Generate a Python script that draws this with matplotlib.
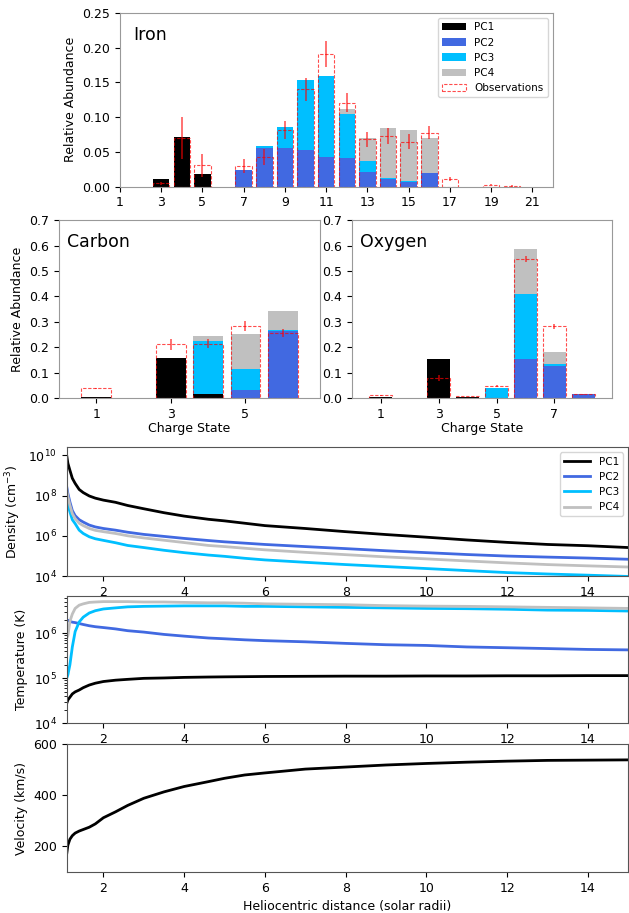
import numpy as np
import matplotlib
matplotlib.use("Agg")
import matplotlib.pyplot as plt

# ---- charge state abundances (stacked components) ----
fe_q = np.arange(1, 22)
fe_pc1 = [0, 0, 0.0115, 0.071, 0.0177, 0, 0, 0, 0, 0, 0, 0, 0, 0, 0, 0, 0, 0, 0, 0, 0]
fe_pc2 = [0, 0, 0, 0, 0, 0, 0.024, 0.056, 0.056, 0.0527, 0.043, 0.041, 0.0206, 0.0105, 0.007, 0.020, 0, 0, 0, 0, 0]
fe_pc3 = [0, 0, 0, 0, 0, 0, 0, 0.003, 0.030, 0.101, 0.116, 0.063, 0.0164, 0.0025, 0.0005, 0, 0, 0, 0, 0, 0]
fe_pc4 = [0, 0, 0, 0, 0, 0, 0, 0, 0, 0, 0, 0.008, 0.033, 0.072, 0.0735, 0.050, 0, 0, 0, 0, 0]
fe_obs = [0, 0, 0.005, 0.070, 0.0306, 0, 0.0297, 0.0426, 0.081, 0.140, 0.191, 0.121, 0.068, 0.073, 0.065, 0.078, 0.0105, 0, 0.003, 0.001, 0]
fe_err = [0, 0, 0.002, 0.030, 0.016, 0, 0.010, 0.011, 0.013, 0.017, 0.019, 0.014, 0.011, 0.011, 0.011, 0.010, 0.003, 0, 0.001, 0.001, 0]

c_q = np.arange(1, 7)
c_pc1 = [0.004, 0, 0.157, 0.0157, 0, 0]
c_pc2 = [0, 0, 0, 0.002, 0.034, 0.263]
c_pc3 = [0, 0, 0, 0.208, 0.081, 0.004]
c_pc4 = [0, 0, 0, 0.021, 0.136, 0.075]
c_obs = [0.039, 0, 0.212, 0.214, 0.284, 0.255]
c_err = [0.001, 0, 0.021, 0.018, 0.018, 0.016]

o_q = np.arange(1, 9)
o_pc1 = [0.005, 0, 0.154, 0.004, 0, 0, 0, 0]
o_pc2 = [0, 0, 0, 0, 0.002, 0.154, 0.126, 0.018]
o_pc3 = [0, 0, 0, 0, 0.037, 0.256, 0.008, 0]
o_pc4 = [0, 0, 0, 0, 0, 0.178, 0.048, 0]
o_obs = [0.012, 0, 0.080, 0.009, 0.050, 0.546, 0.283, 0.016]
o_err = [0.001, 0, 0.012, 0.001, 0.004, 0.012, 0.010, 0.001]

# ---- radial profiles ----
r = [1.09, 1.12, 1.17, 1.23, 1.3, 1.4, 1.5, 1.65, 1.8, 2.0, 2.3, 2.6, 3.0, 3.5,
     4.0, 4.6, 5.0, 5.5, 6.0, 7.0, 8.0, 9.0, 10.0, 11.0, 12.0, 13.0, 14.0, 15.0]

dens_pc1 = [1.0e10, 4.0e9, 1.8e9, 7.2e8, 4.0e8, 2.0e8, 1.4e8, 9.5e7, 7.4e7, 5.9e7, 4.6e7, 3.2e7, 2.2e7, 1.4e7,
            9.5e6, 6.6e6, 5.5e6, 4.2e6, 3.2e6, 2.3e6, 1.6e6, 1.15e6, 8.5e5, 6.2e5, 4.7e5, 3.7e5, 3.2e5, 2.6e5]
dens_pc2 = [2.8e8, 1.26e8, 4.8e7, 1.8e7, 1.0e7, 6.3e6, 4.8e6, 3.4e6, 2.75e6, 2.3e6, 1.9e6, 1.5e6, 1.17e6, 9.3e5,
            7.4e5, 5.8e5, 5.0e5, 4.3e5, 3.7e5, 2.9e5, 2.3e5, 1.8e5, 1.45e5, 1.17e5, 9.8e4, 8.7e4, 7.8e4, 6.8e4]
dens_pc3 = [7.9e7, 3.5e7, 1.55e7, 6.3e6, 4.0e6, 1.9e6, 1.3e6, 8.9e5, 7.1e5, 5.9e5, 4.5e5, 3.3e5, 2.6e5, 1.9e5,
            1.45e5, 1.1e5, 9.5e4, 7.6e4, 6.3e4, 4.8e4, 3.7e4, 2.95e4, 2.35e4, 1.86e4, 1.48e4, 1.26e4, 1.1e4, 9.5e3]
dens_pc4 = [2.0e8, 8.9e7, 3.3e7, 1.26e7, 7.1e6, 4.2e6, 3.2e6, 2.3e6, 1.86e6, 1.6e6, 1.3e6, 1.0e6, 7.8e5, 6.0e5,
            4.6e5, 3.3e5, 2.9e5, 2.4e5, 2.0e5, 1.5e5, 1.15e5, 8.9e4, 7.1e4, 5.6e4, 4.5e4, 3.7e4, 3.2e4, 2.8e4]

temp_pc1 = [2.75e4, 3.3e4, 3.8e4, 4.5e4, 5.0e4, 5.5e4, 6.2e4, 7.1e4, 7.8e4, 8.5e4, 9.1e4, 9.5e4, 1.0e5, 1.02e5,
            1.05e5, 1.07e5, 1.08e5, 1.09e5, 1.1e5, 1.11e5, 1.12e5, 1.12e5, 1.13e5, 1.13e5, 1.14e5, 1.14e5, 1.15e5, 1.15e5]
temp_pc2 = [2.0e6, 1.95e6, 1.86e6, 1.78e6, 1.74e6, 1.66e6, 1.58e6, 1.48e6, 1.41e6, 1.35e6, 1.26e6, 1.15e6, 1.07e6, 9.5e5,
            8.7e5, 7.9e5, 7.6e5, 7.2e5, 6.9e5, 6.5e5, 6.0e5, 5.6e5, 5.4e5, 5.0e5, 4.8e5, 4.6e5, 4.4e5, 4.3e5]
temp_pc3 = [1.0e5, 1.2e5, 2.0e5, 5.0e5, 1.1e6, 1.8e6, 2.3e6, 2.85e6, 3.2e6, 3.5e6, 3.7e6, 3.9e6, 4.0e6, 4.05e6,
            4.1e6, 4.1e6, 4.1e6, 4.0e6, 4.0e6, 3.9e6, 3.8e6, 3.7e6, 3.6e6, 3.55e6, 3.45e6, 3.3e6, 3.25e6, 3.15e6]
temp_pc4 = [7.9e5, 8.9e5, 1.86e6, 2.7e6, 3.6e6, 4.25e6, 4.55e6, 4.9e6, 5.0e6, 5.1e6, 5.1e6, 5.1e6, 5.0e6, 5.0e6,
            4.9e6, 4.8e6, 4.8e6, 4.7e6, 4.55e6, 4.45e6, 4.35e6, 4.15e6, 4.05e6, 4.0e6, 3.9e6, 3.8e6, 3.7e6, 3.6e6]

velocity = [170, 205, 228, 242, 252, 260, 266, 275, 288, 312, 335, 360, 388, 413,
            434, 453, 466, 479, 487, 502, 510, 518, 524, 529, 533, 536, 537, 538]

colors = ["black", "royalblue", "deepskyblue", "silver"]
labels = ["PC1", "PC2", "PC3", "PC4"]

plt.rcParams["font.size"] = 9
plt.rcParams["xtick.labelsize"] = 9
plt.rcParams["ytick.labelsize"] = 9

fig = plt.figure(figsize=(6.29, 9.13), dpi=100)


def bar_panel(ax, q, comps, obs, err, name):
    bottom = np.zeros(len(q))
    for vals, col, lab in zip(comps, colors, labels):
        vals = np.array(vals)
        ax.bar(q, vals, width=0.8, bottom=bottom, color=col, label=lab, linewidth=0)
        bottom += vals
    obs = np.array(obs)
    err = np.array(err)
    m = obs > 0
    ax.bar(q[m], obs[m], width=0.8, fill=False, edgecolor="red", linestyle=(0, (3, 1.5)),
           linewidth=0.8, alpha=0.7, label="Observations")
    ax.errorbar(q[m], obs[m], yerr=err[m], fmt="none", ecolor="red", elinewidth=1.3, alpha=0.6)
    ax.text(0.03, 0.875, name, transform=ax.transAxes, fontsize=12.5, va="center")
    for s in ax.spines.values():
        s.set_color("#999999")


# Iron
ax_fe = fig.add_axes([0.1908, 0.7955, 0.6884, 0.1903])
bar_panel(ax_fe, fe_q, [fe_pc1, fe_pc2, fe_pc3, fe_pc4], fe_obs, fe_err, "Iron")
ax_fe.set_xlim(1, 22)
ax_fe.set_ylim(0, 0.25)
ax_fe.set_xticks(np.arange(1, 22, 2))
ax_fe.set_yticks([0, 0.05, 0.10, 0.15, 0.20, 0.25])
ax_fe.set_yticklabels(["0.00", "0.05", "0.10", "0.15", "0.20", "0.25"])
ax_fe.set_ylabel("Relative Abundance")
ax_fe.legend(loc="upper right", fontsize=7.5, handlelength=2.3)

# Carbon
ax_c = fig.add_axes([0.0938, 0.5637, 0.415, 0.1953])
bar_panel(ax_c, c_q, [c_pc1, c_pc2, c_pc3, c_pc4], c_obs, c_err, "Carbon")
ax_c.set_xlim(0, 7)
ax_c.set_ylim(0, 0.7)
ax_c.set_xticks([1, 3, 5])
ax_c.set_ylabel("Relative Abundance")
ax_c.set_xlabel("Charge State", labelpad=1)

# Oxygen
ax_o = fig.add_axes([0.5596, 0.5637, 0.4138, 0.1953])
bar_panel(ax_o, o_q, [o_pc1, o_pc2, o_pc3, o_pc4], o_obs, o_err, "Oxygen")
ax_o.set_xlim(0, 9)
ax_o.set_ylim(0, 0.7)
ax_o.set_xticks([1, 3, 5, 7])
ax_o.set_xlabel("Charge State", labelpad=1)

# Density
ax_d = fig.add_axes([0.106, 0.3691, 0.8928, 0.141])
for vals, col, lab in zip([dens_pc1, dens_pc2, dens_pc3, dens_pc4], colors, labels):
    ax_d.plot(r, vals, color=col, lw=2, label=lab)
ax_d.set_yscale("log")
ax_d.set_ylim(1e4, 2.5e10)
ax_d.set_yticks([1e4, 1e6, 1e8, 1e10])
ax_d.set_ylabel("Density (cm$^{-3}$)")
ax_d.legend(loc="upper right", fontsize=7.5, handlelength=2.5)

# Temperature
ax_t = fig.add_axes([0.106, 0.2078, 0.8928, 0.1394])
for vals, col in zip([temp_pc1, temp_pc2, temp_pc3, temp_pc4], colors):
    ax_t.plot(r, vals, color=col, lw=2)
ax_t.set_yscale("log")
ax_t.set_ylim(1e4, 6.8e6)
ax_t.set_ylabel("Temperature (K)")

# Velocity
ax_v = fig.add_axes([0.106, 0.0449, 0.8928, 0.1402])
ax_v.plot(r, velocity, color="black", lw=2)
ax_v.set_ylim(100, 600)
ax_v.set_yticks([200, 400, 600])
ax_v.set_ylabel("Velocity (km/s)")
ax_v.set_xlabel("Heliocentric distance (solar radii)")

for ax in (ax_d, ax_t, ax_v):
    ax.set_xlim(1.09, 15)
    ax.set_xticks([2, 4, 6, 8, 10, 12, 14])
    for s in ax.spines.values():
        s.set_color("#555555")

fig.savefig("out.png", dpi=100)
